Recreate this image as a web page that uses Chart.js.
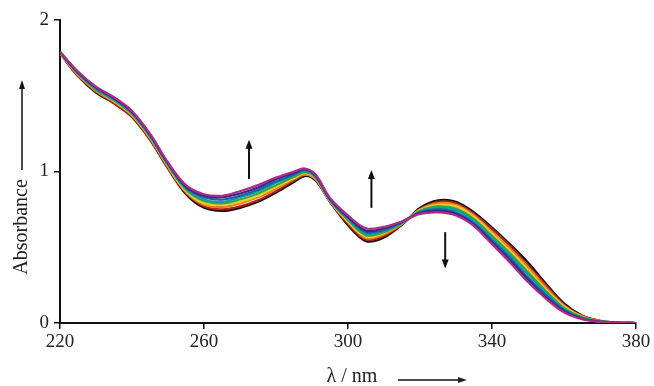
<!DOCTYPE html>
<html>
<head>
<meta charset="utf-8">
<script src="https://cdn.jsdelivr.net/npm/chart.js@4/dist/chart.umd.min.js"></script>
<style>
  html, body { margin: 0; padding: 0; background: #fff; }
  #wrap { width: 654px; height: 386px; position: relative; }
</style>
</head>
<body>
<div id="wrap"><canvas id="c" width="654" height="386"></canvas></div>
<script>
// Wavelengths (nm)
const wavelengths = [220,225,230,235,240,245,250,255,260,265,270,275,280,285,288,291,295,300,305,310,315,320,325,330,335,340,345,350,355,360,365,370,375,380];

// Absorbance spectra, first (black) to last (magenta)
const s0 = [1.78,1.63,1.52,1.45,1.36,1.21,1.02,0.85,0.76,0.74,0.76,0.80,0.86,0.93,0.97,0.94,0.80,0.645,0.54,0.565,0.65,0.76,0.81,0.80,0.73,0.63,0.52,0.40,0.26,0.13,0.05,0.015,0.003,0];
const s1 = [1.78,1.63,1.53,1.45,1.36,1.21,1.02,0.86,0.77,0.75,0.77,0.81,0.87,0.94,0.98,0.945,0.80,0.655,0.55,0.575,0.65,0.75,0.80,0.79,0.72,0.62,0.51,0.38,0.25,0.12,0.047,0.014,0.003,0];
const s2 = [1.78,1.64,1.53,1.46,1.37,1.22,1.03,0.865,0.78,0.765,0.79,0.83,0.885,0.95,0.98,0.95,0.805,0.665,0.56,0.585,0.655,0.75,0.79,0.78,0.71,0.60,0.49,0.37,0.235,0.115,0.044,0.013,0.003,0];
const s3 = [1.78,1.64,1.54,1.465,1.375,1.225,1.035,0.87,0.79,0.78,0.80,0.84,0.90,0.955,0.99,0.955,0.805,0.67,0.57,0.595,0.66,0.745,0.78,0.77,0.70,0.59,0.475,0.35,0.22,0.11,0.04,0.012,0.003,0];
const s4 = [1.785,1.645,1.54,1.47,1.38,1.23,1.04,0.88,0.805,0.79,0.815,0.855,0.91,0.965,0.995,0.96,0.81,0.68,0.58,0.60,0.66,0.74,0.77,0.755,0.685,0.575,0.46,0.335,0.21,0.10,0.037,0.011,0.0025,0];
const s5 = [1.785,1.65,1.545,1.475,1.385,1.235,1.045,0.89,0.815,0.80,0.83,0.87,0.925,0.975,1.00,0.965,0.81,0.69,0.59,0.61,0.66,0.735,0.76,0.745,0.675,0.56,0.445,0.32,0.20,0.093,0.034,0.011,0.0024,0];
const s6 = [1.785,1.65,1.55,1.48,1.39,1.24,1.05,0.895,0.83,0.815,0.84,0.88,0.935,0.98,1.01,0.97,0.815,0.695,0.60,0.615,0.665,0.73,0.75,0.73,0.66,0.545,0.43,0.30,0.185,0.085,0.031,0.01,0.002,0];
const s7 = [1.79,1.655,1.555,1.485,1.395,1.245,1.055,0.90,0.84,0.83,0.855,0.895,0.95,0.99,1.015,0.975,0.82,0.70,0.61,0.625,0.67,0.725,0.74,0.72,0.65,0.535,0.415,0.285,0.17,0.078,0.028,0.009,0.002,0];
const s8 = [1.79,1.66,1.56,1.49,1.40,1.25,1.06,0.91,0.85,0.84,0.87,0.91,0.96,1.00,1.02,0.98,0.825,0.71,0.625,0.635,0.67,0.72,0.73,0.71,0.64,0.52,0.40,0.27,0.16,0.07,0.025,0.008,0.002,0];

const seriesList = [s0,s1,s2,s3,s4,s5,s6,s7,s8];
const seriesColors = ['#111111','#b0201c','#f07a1a','#e8d020','#2fa84a','#0f9f9a','#1f5cb0','#3b2a80','#b02a88'];

// Axis ticks
const xTicks = [220,260,300,340,380];
const yTicks = [0,1,2];

// Annotation arrows (data units): x, start value, end value (head at end)
const arrows = [
  {x:272.5, from:0.95, to:1.21},
  {x:306.5, from:0.76, to:1.01},
  {x:327.0, from:0.60, to:0.36}
];

const SERIF = "'Liberation Serif', 'DejaVu Serif', serif";

function drawArrow(ctx, x1, y1, x2, y2, head, w) {
  const ang = Math.atan2(y2 - y1, x2 - x1);
  ctx.beginPath();
  ctx.moveTo(x1, y1);
  ctx.lineTo(x2 - Math.cos(ang) * head * 0.6, y2 - Math.sin(ang) * head * 0.6);
  ctx.stroke();
  ctx.beginPath();
  ctx.moveTo(x2, y2);
  ctx.lineTo(x2 - Math.cos(ang) * head + Math.sin(ang) * w, y2 - Math.sin(ang) * head - Math.cos(ang) * w);
  ctx.lineTo(x2 - Math.cos(ang) * head - Math.sin(ang) * w, y2 - Math.sin(ang) * head + Math.cos(ang) * w);
  ctx.closePath();
  ctx.fill();
}

const annot = {
  id: 'annot',
  afterDraw(chart) {
    const ctx = chart.ctx;
    const xs = chart.scales.x, ys = chart.scales.y;
    ctx.save();
    ctx.strokeStyle = '#111';
    ctx.fillStyle = '#111';
    ctx.lineWidth = 2;
    arrows.forEach(a => {
      const px = xs.getPixelForValue(a.x);
      drawArrow(ctx, px, ys.getPixelForValue(a.from), px, ys.getPixelForValue(a.to), 9, 3.5);
    });
    // y title
    ctx.save();
    ctx.translate(22, 227);
    ctx.rotate(-Math.PI / 2);
    ctx.font = '20px ' + SERIF;
    ctx.fillStyle = '#222';
    ctx.textAlign = 'center';
    ctx.textBaseline = 'middle';
    ctx.fillText('Absorbance', 0, 0);
    ctx.restore();
    ctx.lineWidth = 1.5;
    drawArrow(ctx, 22, 170, 22, 80, 9, 3);
    // x title
    ctx.font = '20px ' + SERIF;
    ctx.fillStyle = '#222';
    ctx.textAlign = 'center';
    ctx.textBaseline = 'middle';
    ctx.fillText('λ / nm', 352, 377);
    drawArrow(ctx, 398, 380, 467, 380, 9, 3);
    ctx.restore();
  }
};

const datasets = seriesList.map((s, i) => ({
  label: 'spectrum ' + (i + 1),
  data: wavelengths.map((w, j) => ({x: w, y: s[j]})),
  borderColor: seriesColors[i],
  borderWidth: 2.2,
  pointRadius: 0,
  fill: false,
  tension: 0.35,
  order: seriesList.length - i
}));

new Chart(document.getElementById('c'), {
  type: 'line',
  data: { datasets },
  options: {
    responsive: false,
    animation: false,
    events: [],
    layout: { padding: { left: 0, right: 18, top: 20, bottom: 0 } },
    plugins: { legend: { display: false }, tooltip: { enabled: false } },
    scales: {
      x: {
        type: 'linear',
        min: 220, max: 380,
        afterFit: s => { s.height = 63; },
        afterBuildTicks: s => { s.ticks = xTicks.map(v => ({value: v})); },
        border: { display: true, color: '#111', width: 2 },
        grid: { drawOnChartArea: false, drawTicks: true, tickLength: 6, color: '#111', lineWidth: 1.5 },
        ticks: { color: '#222', font: { family: SERIF, size: 19 }, padding: 2, maxRotation: 0, autoSkip: false }
      },
      y: {
        type: 'linear',
        min: 0, max: 2,
        afterFit: s => { s.width = 60; },
        afterBuildTicks: s => { s.ticks = yTicks.map(v => ({value: v})); },
        border: { display: true, color: '#111', width: 2 },
        grid: { drawOnChartArea: false, drawTicks: true, tickLength: 6, color: '#111', lineWidth: 1.5 },
        ticks: { color: '#222', font: { family: SERIF, size: 19 }, padding: 5 }
      }
    }
  },
  plugins: [annot]
});
</script>
</body>
</html>
